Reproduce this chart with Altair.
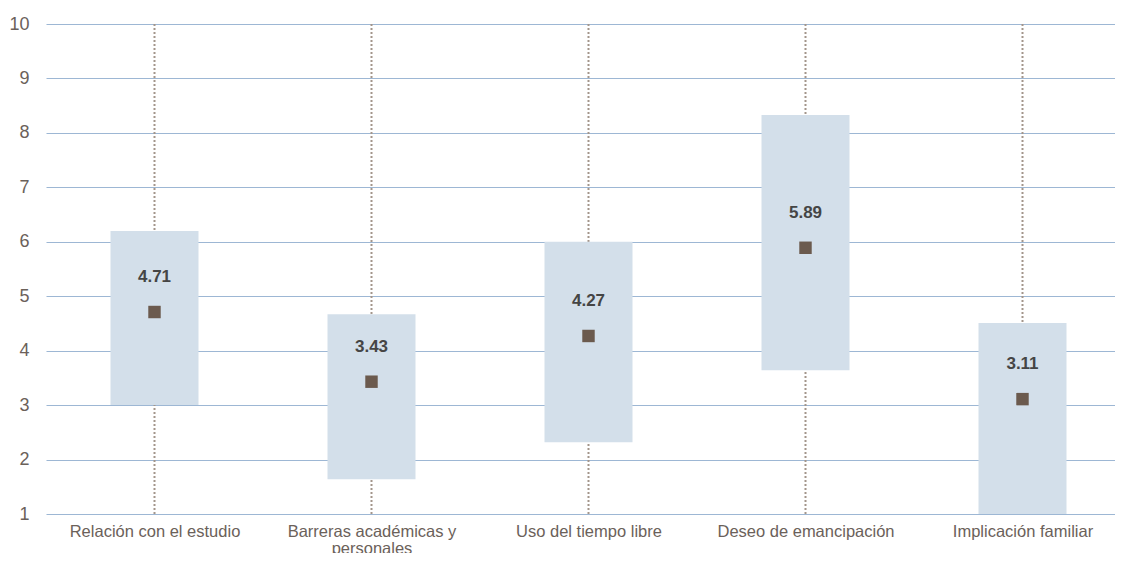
import altair as alt
import pandas as pd
import json

categories = ["Relación con el estudio", "Barreras académicas y personales",
              "Uso del tiempo libre", "Deseo de emancipación", "Implicación familiar"]
category_lines = [["Relación con el estudio"], ["Barreras académicas y", "personales"],
                  ["Uso del tiempo libre"], ["Deseo de emancipación"], ["Implicación familiar"]]
low_vals = [3.0, 1.64, 2.32, 3.64, 1.0]
high_vals = [6.2, 4.67, 6.0, 8.33, 4.51]
mean_vals = [4.71, 3.43, 4.27, 5.89, 3.11]
y_ticks = [1, 2, 3, 4, 5, 6, 7, 8, 9, 10]

idx = list(range(len(categories)))
df = pd.DataFrame({
    "idx": idx,
    "cat": categories,
    "lo": low_vals,
    "hi": high_vals,
    "mean": mean_vals,
    "label": [f"{v:.2f}" for v in mean_vals],
    "ymin": [y_ticks[0]] * len(categories),
    "ymax": [y_ticks[-1]] * len(categories),
})

FONT = "Liberation Sans"
W = 1069
STEP = 217
label_expr = json.dumps(category_lines, ensure_ascii=False) + "[datum.value]"

x = alt.X("idx:Q", title=None,
          scale=alt.Scale(domain=[-0.5, -0.5 + W / STEP], nice=False, zero=False, padding=0),
          axis=alt.Axis(values=idx, labelExpr=label_expr, ticks=False, domain=False,
                        grid=False, labelPadding=9, labelFontSize=16.5,
                        labelColor="#6b615a", labelFont=FONT, labelLineHeight=17,
                        labelLimit=400, labelOverlap=False, labelFlush=False))
yscale = alt.Scale(domain=[1, 10], nice=False, zero=False)

base = alt.Chart(df)

rules = base.mark_rule(color="#a3968b", strokeWidth=2, strokeDash=[2, 2]).encode(
    x=x,
    y=alt.Y("ymin:Q", scale=yscale, title=None,
            axis=alt.Axis(values=y_ticks, format="d", ticks=False, domain=False, grid=True,
                          gridColor="#9db7d4", gridWidth=1.2, labelPadding=17,
                          labelFontSize=18, labelColor="#6b615a", labelFont=FONT)),
    y2="ymax:Q",
)

boxes = base.mark_bar(color="#d3dfea", size=88, orient="vertical").encode(
    x=x, y=alt.Y("lo:Q", scale=yscale), y2="hi:Q")

points = base.mark_point(shape="square", filled=True, size=155, color="#6b5a4e",
                         opacity=1).encode(x=x, y=alt.Y("mean:Q", scale=yscale))

labels = base.mark_text(dy=-35, fontSize=17, fontWeight="bold", color="#454545",
                        font=FONT).encode(x=x, y=alt.Y("mean:Q", scale=yscale),
                                          text="label:N")

chart = alt.layer(rules, boxes, points, labels).properties(
    width=W, height=490,
    autosize=alt.AutoSizeParams(type="none"),
    padding={"left": 38, "top": 16, "right": 0, "bottom": 39},
).configure_view(stroke=None)

chart.save("out.html", embed_options={"renderer": "svg", "actions": False})
